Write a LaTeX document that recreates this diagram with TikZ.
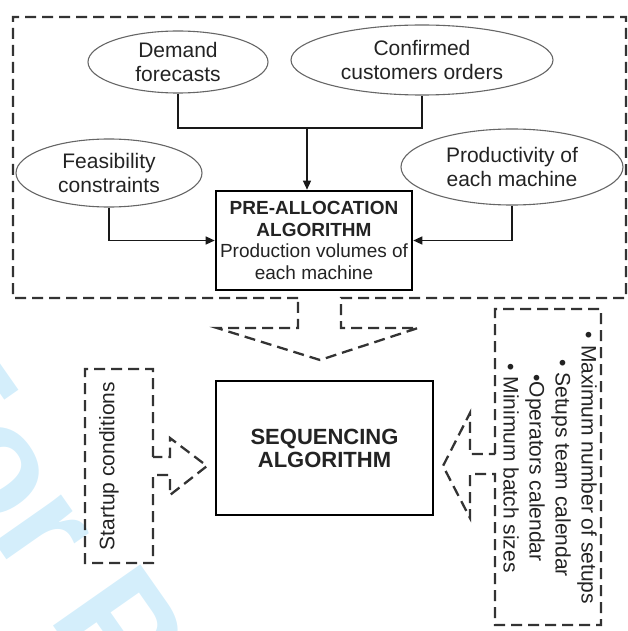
\documentclass[tikz,border=0pt]{standalone}
\usepackage{fontspec}
\setmainfont{Liberation Sans}
\usetikzlibrary{shapes.geometric,arrows.meta,calc}
\definecolor{wm}{RGB}{212,238,251}
\definecolor{ink}{RGB}{35,35,35}
\begin{document}
\begin{tikzpicture}[x=1pt,y=-1pt,
  every node/.style={text=ink, font=\fontsize{21}{24}\selectfont, inner sep=0pt},
  oval/.style={ellipse, draw=black!60, line width=1.1pt, align=center},
  conn/.style={draw=black!90, line width=1.3pt},
  arr/.style={conn, -{Triangle[length=9pt,width=8pt]}},
  dashbox/.style={draw=black!80, line width=2.3pt, dash pattern=on 11pt off 6pt, line join=miter},
  algbox/.style={draw=black, rectangle, align=center}
]
\useasboundingbox (0,0) rectangle (628,631);
\begin{scope}
  \clip (0,0) rectangle (628,631);
  \node[text=wm, font=\fontsize{155}{155}\selectfont\bfseries, rotate=-55, anchor=base west] (wmark) at (-120,378) {For P};
\end{scope}

% upper group: inputs and pre-allocation
\node[oval, minimum width=180pt, minimum height=62pt] (demand) at (178,62) {Demand\\forecasts};
\node[oval, minimum width=262pt, minimum height=70pt] (confirmed) at (422,60) {Confirmed\\customers orders};
\node[oval, minimum width=186pt, minimum height=68pt] (feas) at (109,173) {Feasibility\\constraints};
\node[oval, minimum width=222pt, minimum height=76pt] (prod) at (512,167) {Productivity of\\each machine};
\node[algbox, line width=2.6pt, minimum width=196pt, minimum height=99pt, font=\fontsize{19}{21.7}\selectfont] (prealloc) at (314,240.5)
  {\textbf{PRE-ALLOCATION}\\\textbf{ALGORITHM}\\Production volumes of\\each machine};

\coordinate (join) at (307,128);
\draw[conn] (demand.south) |- (join) -| (confirmed.south);
\draw[arr] (join) -- (join |- prealloc.north);
\draw[arr] (feas.south) |- (prealloc.west);
\draw[arr] (prod.south) |- (prealloc.east);

% outer dashed frame with the downward hollow arrow
\draw[dashbox] (298,298) -- (13,298) -- (13,17) -- (626,17) -- (626,298) -- (341,298) -- (341,328) -- (418,328) -- (320,360) -- (217,328) -- (298,328) -- cycle;

% sequencing
\node[algbox, line width=2.4pt, minimum width=217pt, minimum height=134pt, font=\fontsize{22}{23}\selectfont\bfseries] (seq) at (324.5,448) {SEQUENCING\\ALGORITHM};

% startup conditions with arrow
\draw[dashbox] (153,457) -- (153,369) -- (85,369) -- (85,563) -- (153,563) -- (153,475) -- (170,475) -- (170,495) -- (207,466) -- (170,438) -- (170,457) -- cycle;
\node[rotate=90] (startup) at (109,466) {Startup conditions};

% constraints box with arrow
\draw[dashbox] (495,454) -- (495,309) -- (601,309) -- (601,625) -- (495,625) -- (495,474) -- (470,474) -- (470,518) -- (443,466) -- (470,413) -- (470,454) -- cycle;
\node[rotate=-90, align=center, font=\fontsize{21}{26}\selectfont] (limits) at (550,468)
  {• Maximum number of setups\\• Setups team calendar\\•Operators calendar\\• Minimum batch sizes};
\end{tikzpicture}
\end{document}
